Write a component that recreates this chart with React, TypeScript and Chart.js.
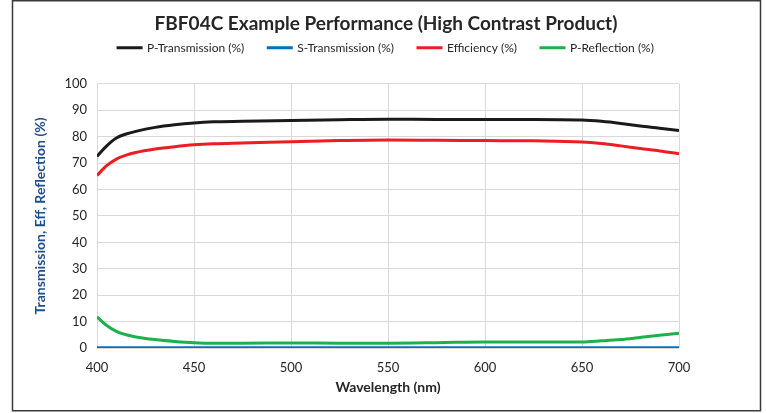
import React, { useEffect, useRef } from "react";
import { Chart, registerables } from "chart.js";

Chart.register(...registerables);

const wavelengths = [400, 405, 410, 415, 420, 430, 440, 450, 460, 475, 500, 525, 550, 575, 600, 625, 650, 660, 670, 680, 690, 700];
const pTransmission = [72.5, 76.5, 79.5, 81, 82, 83.5, 84.5, 85.2, 85.6, 85.8, 86.1, 86.4, 86.6, 86.5, 86.5, 86.5, 86.3, 85.8, 85, 84, 83.2, 82.3];
const sTransmission = [0.1, 0.1, 0.1, 0.1, 0.1, 0.1, 0.1, 0.1, 0.1, 0.1, 0.1, 0.1, 0.1, 0.1, 0.1, 0.1, 0.1, 0.1, 0.1, 0.1, 0.1, 0.1];
const efficiency = [65.3, 69, 71.5, 73, 74, 75.3, 76.2, 76.9, 77.3, 77.6, 78.1, 78.5, 78.7, 78.6, 78.5, 78.4, 78, 77.4, 76.5, 75.5, 74.6, 73.5];
const pReflection = [11.8, 8.5, 6.3, 5, 4.2, 3.2, 2.5, 2, 1.8, 1.8, 1.9, 1.8, 1.8, 2.0, 2.3, 2.3, 2.3, 2.7, 3.2, 4, 4.8, 5.6];

const seriesNames = ["P-Transmission (%)", "S-Transmission (%)", "Efficiency (%)", "P-Reflection (%)"];
const seriesColors = ["#1a1a1a", "#0070C0", "#EE1C25", "#1DB14B"];
const seriesValues = [pTransmission, sTransmission, efficiency, pReflection];

const FONT = "Lato, 'Open Sans', sans-serif";

const borderPlugin = {
  id: "outerBorder",
  afterDraw(chart: any) {
    const ctx = chart.ctx;
    ctx.save();
    ctx.strokeStyle = "#3a3a3a";
    ctx.lineWidth = 1.5;
    ctx.strokeRect(12.5, 0.75, 748, 410);
    ctx.restore();
  },
};

export default function App() {
  const ref = useRef<HTMLCanvasElement>(null);
  useEffect(() => {
    if (!ref.current) return;
    const datasets = seriesNames.map((name, i) => ({
      label: name,
      data: wavelengths.map((w, j) => ({ x: w, y: seriesValues[i][j] })),
      borderColor: seriesColors[i],
      backgroundColor: seriesColors[i],
      borderWidth: 3,
      pointRadius: 0,
      cubicInterpolationMode: "monotone" as const,
    }));
    const chart = new Chart(ref.current, {
      type: "line",
      data: { datasets },
      options: {
        animation: false,
        responsive: true,
        maintainAspectRatio: false,
        layout: { padding: { left: 28, right: 23, top: 8, bottom: 13 } },
        plugins: {
          title: {
            display: true,
            text: "FBF04C Example Performance (High Contrast Product)",
            color: "#262626",
            font: { family: FONT, size: 19, weight: "bold" },
            padding: { top: 4, bottom: -17 },
          },
          legend: {
            display: true,
            labels: {
              boxWidth: 23,
              boxHeight: 0.1,
              padding: 24,
              color: "#262626",
              font: { family: FONT, size: 12 },
            },
          },
          tooltip: { enabled: false },
        },
        scales: {
          x: {
            type: "linear",
            min: 400,
            max: 700,
            ticks: { stepSize: 50, color: "#262626", font: { family: FONT, size: 13 }, padding: 12 },
            grid: { color: "#d9d9d9", drawTicks: false },
            border: { display: false },
            title: {
              display: true,
              text: "Wavelength (nm)",
              color: "#262626",
              font: { family: FONT, size: 14, weight: "bold" },
              padding: { top: 4, bottom: 4 },
            },
            afterFit: (s: any) => { s.height = 52; },
          },
          xTop: {
            type: "linear",
            position: "top",
            display: true,
            ticks: { display: false },
            grid: { display: false, drawTicks: false },
            border: { display: false },
            afterFit: (s: any) => { s.height = 20; },
          },
          y: {
            min: 0,
            max: 100,
            ticks: { stepSize: 10, color: "#262626", font: { family: FONT, size: 13 }, padding: 10 },
            grid: { color: "#d9d9d9", drawTicks: false },
            border: { display: false },
            title: {
              display: true,
              text: "Transmission, Eff, Reflection (%)",
              color: "#1F4E8C",
              font: { family: FONT, size: 14, weight: "bold" },
              padding: { top: 4, bottom: 4 },
            },
            afterFit: (s: any) => { s.width = 69; },
          },
          y2: {
            position: "right",
            display: true,
            ticks: { display: false },
            grid: { display: false, drawTicks: false },
            border: { display: false },
            afterFit: (s: any) => { s.width = 65; },
          },
        },
      },
      plugins: [borderPlugin],
    });
    return () => chart.destroy();
  }, []);
  return (
    <div style={{ position: "absolute", left: 0, top: 0, width: 767, height: 413, background: "#fff" }}>
      <canvas ref={ref} />
    </div>
  );
}
